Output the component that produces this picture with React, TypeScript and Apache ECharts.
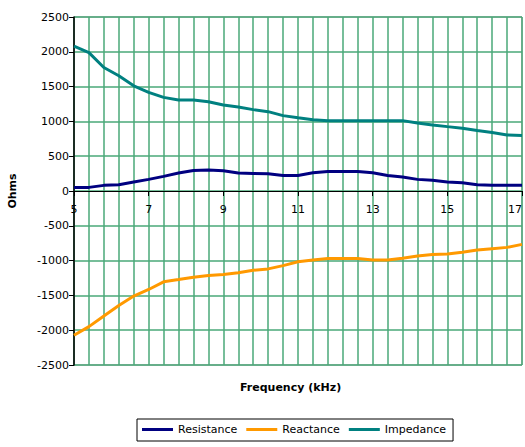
import React, { useEffect, useRef } from "react";
import * as echarts from "echarts";

const frequencies = [
  "5", "5.4", "5.8", "6.2", "6.6", "7", "7.4", "7.8", "8.2", "8.6", "9",
  "9.4", "9.8", "10.2", "10.6", "11", "11.4", "11.8", "12.2", "12.6", "13",
  "13.4", "13.8", "14.2", "14.6", "15", "15.4", "15.8", "16.2", "16.6", "17",
];

const resistance = [
  52, 52, 81, 91, 129, 167, 210, 258, 296, 300, 291,
  258, 253, 248, 224, 224, 262, 281, 281, 281, 262,
  224, 200, 167, 153, 129, 119, 91, 81, 81, 81,
];

const reactance = [
  -2073, -1949, -1797, -1644, -1510, -1415, -1305, -1272, -1238, -1215, -1200,
  -1176, -1138, -1119, -1072, -1017, -990, -971, -971, -971, -990,
  -990, -967, -933, -914, -905, -881, -848, -829, -810, -767,
];

const impedance = [
  2080, 1989, 1775, 1655, 1512, 1417, 1345, 1307, 1307, 1283, 1235,
  1207, 1169, 1140, 1083, 1052, 1025, 1011, 1011, 1011, 1011,
  1011, 1011, 978, 949, 925, 902, 868, 840, 806, 797,
];

const seriesNames = ["Resistance", "Reactance", "Impedance"];
const seriesColors = ["#000080", "#FF9900", "#008080"];

const FONT = "DejaVu Sans";
const GRID_TOP = 17;
const GRID_BOTTOM = 82;
const HEIGHT = 447;
const WIDTH = 525;

export default function App() {
  const ref = useRef<HTMLDivElement>(null);

  useEffect(() => {
    if (!ref.current) return;
    const chart = echarts.init(ref.current, undefined, { renderer: "svg" });
    const dataSets = [resistance, reactance, impedance];
    const plotH = HEIGHT - GRID_TOP - GRID_BOTTOM;
    chart.setOption({
      animation: false,
      backgroundColor: "#ffffff",
      grid: {
        left: 74,
        right: 3,
        top: GRID_TOP,
        bottom: GRID_BOTTOM,
        containLabel: false,
        outerBoundsMode: "none",
        show: true,
        borderColor: "#808080",
        borderWidth: 1,
        backgroundColor: "transparent",
      },
      legend: {
        data: seriesNames,
        left: 137,
        top: 419,
        icon: "rect",
        itemWidth: 31,
        itemHeight: 3,
        itemGap: 9,
        padding: [5, 7, 6, 5],
        borderColor: "#000000",
        borderWidth: 1,
        borderRadius: 0,
        textStyle: { fontFamily: FONT, fontSize: 11, color: "#000000" },
      },
      graphic: [
        {
          type: "text",
          left: 298 - 58,
          top: 382,
          style: {
            text: "Frequency (kHz)",
            font: `bold 11px "${FONT}"`,
            fill: "#000000",
          },
        },
      ],
      xAxis: {
        type: "category",
        data: frequencies,
        boundaryGap: false,
        position: "bottom",
        offset: -plotH / 2,
        axisLine: { onZero: false, lineStyle: { color: "#000000", width: 1 } },
        axisTick: { show: true, interval: 4, length: 5, lineStyle: { color: "#000000" } },
        axisLabel: {
          interval: 4,
          margin: 13,
          fontFamily: FONT,
          fontSize: 11,
          color: "#000000",
          showMaxLabel: true,
          alignMaxLabel: "right",
        },
        splitLine: {
          show: true,
          interval: 0,
          lineStyle: { color: "#4aa878", width: 1.5 },
        },
      },
      yAxis: {
        type: "value",
        min: -2500,
        max: 2500,
        interval: 500,
        name: "Ohms",
        nameLocation: "middle",
        nameRotate: 90,
        nameGap: 56,
        nameTextStyle: { fontFamily: FONT, fontSize: 11, fontWeight: "bold", color: "#000000" },
        axisLine: { show: true, lineStyle: { color: "#000000", width: 1.5 } },
        axisTick: { show: true, length: 5, lineStyle: { color: "#000000" } },
        axisLabel: {
          margin: 5,
          fontFamily: FONT,
          fontSize: 11,
          color: "#000000",
          formatter: (v: number) => String(v),
        },
        splitLine: { show: true, lineStyle: { color: "#4aa878", width: 1.5 } },
      },
      series: seriesNames.map((name, i) => ({
        name,
        type: "line",
        data: dataSets[i],
        symbol: "none",
        lineStyle: { color: seriesColors[i], width: 3 },
        itemStyle: { color: seriesColors[i] },
        z: 3,
      })),
    });
    return () => chart.dispose();
  }, []);

  return (
    <div
      ref={ref}
      style={{ position: "fixed", left: 0, top: 0, width: WIDTH, height: HEIGHT }}
    />
  );
}
